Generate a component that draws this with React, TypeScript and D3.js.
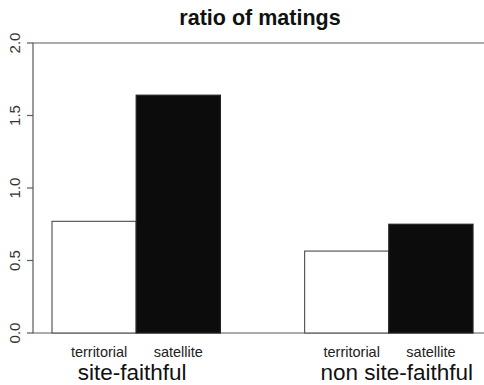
import React from "react";
import { useRef, useEffect } from "react";
import * as d3 from "d3";

const groups = ["site-faithful", "non site-faithful"];
const types = ["territorial", "satellite"];
const territorial = [0.77, 0.565];
const satellite = [1.64, 0.75];
const yTicks = [0, 0.5, 1, 1.5, 2];

function App() {
  const svgRef = useRef(null);

  var width = 484,
    height = 385;
  var plotLeft = 33,
    plotTop = 43,
    plotBottom = 333;

  function renderChart() {
    const svg = d3.select(svgRef.current);
    svg.selectAll("*").remove();

    // R style barplot units: bars of width 1, a gap of 1 between groups
    const x = d3.scaleLinear().domain([1, 6]).range([52, 473]);
    const y = d3.scaleLinear().domain([0, 2]).range([plotBottom, plotTop]);

    const bars = [];
    groups.forEach(function (g, gi) {
      const start = 1 + gi * 3;
      bars.push({ group: g, type: types[0], value: territorial[gi], x0: start });
      bars.push({ group: g, type: types[1], value: satellite[gi], x0: start + 1 });
    });

    const line = "#5a5a5a";

    // frame (right side runs off the picture)
    svg
      .append("path")
      .attr("d", `M${width},${plotTop}H${plotLeft}V${plotBottom}H${width}`)
      .attr("fill", "none")
      .attr("stroke", line)
      .attr("stroke-width", 1.2);

    svg
      .selectAll("rect.bar")
      .data(bars)
      .join("rect")
      .attr("class", "bar")
      .attr("x", function (d) {
        return x(d.x0);
      })
      .attr("y", function (d) {
        return y(d.value);
      })
      .attr("width", function (d) {
        return x(d.x0 + 1) - x(d.x0);
      })
      .attr("height", function (d) {
        return y(0) - y(d.value);
      })
      .attr("fill", function (d) {
        return d.type === "satellite" ? "#0c0c0c" : "#ffffff";
      })
      .attr("stroke", function (d) {
        return d.type === "satellite" ? "#222" : line;
      })
      .attr("stroke-width", 1.2);

    // y axis
    const yAxis = svg.append("g");
    yAxis
      .selectAll("line")
      .data(yTicks)
      .join("line")
      .attr("x1", plotLeft - 6)
      .attr("x2", plotLeft)
      .attr("y1", function (d) {
        return y(d);
      })
      .attr("y2", function (d) {
        return y(d);
      })
      .attr("stroke", line)
      .attr("stroke-width", 1.2);
    yAxis
      .selectAll("text")
      .data(yTicks)
      .join("text")
      .attr("transform", function (d) {
        return "translate(" + (plotLeft - 13) + "," + y(d) + ") rotate(-90)";
      })
      .attr("text-anchor", "middle")
      .attr("font-family", "Liberation Sans, Arial, sans-serif")
      .attr("font-size", 15)
      .attr("fill", "#333")
      .text(function (d) {
        return d.toFixed(1);
      });

    // bar labels
    svg
      .selectAll("text.type")
      .data(bars)
      .join("text")
      .attr("class", "type")
      .attr("x", function (d) {
        return x(d.x0 + 0.5) + (d.type === "territorial" ? 5 : 0);
      })
      .attr("y", 357)
      .attr("text-anchor", "middle")
      .attr("font-family", "Liberation Sans, Arial, sans-serif")
      .attr("font-size", 14.5)
      .attr("fill", "#222")
      .text(function (d) {
        return d.type;
      });

    // group labels
    svg
      .selectAll("text.group")
      .data(groups)
      .join("text")
      .attr("class", "group")
      .attr("x", function (d, i) {
        return x(1 + i * 3 + 1) + (i === 1 ? 8 : -4);
      })
      .attr("y", 380)
      .attr("text-anchor", "middle")
      .attr("font-family", "Liberation Sans, Arial, sans-serif")
      .attr("font-size", 22.5)
      .attr("fill", "#111")
      .text(function (d) {
        return d;
      });

    // title
    svg
      .append("text")
      .attr("x", 260)
      .attr("y", 25)
      .attr("text-anchor", "middle")
      .attr("font-family", "Liberation Sans, Arial, sans-serif")
      .attr("font-weight", "bold")
      .attr("font-size", 21.5)
      .attr("fill", "#111")
      .text("ratio of matings");
  }

  useEffect(() => {
    renderChart();
  }, []);

  return (
    <div style={{ position: "absolute", left: 0, top: 0 }}>
      <svg ref={svgRef} width={width} height={height} style={{ display: "block", background: "#fff" }} />
    </div>
  );
}

export default App;
